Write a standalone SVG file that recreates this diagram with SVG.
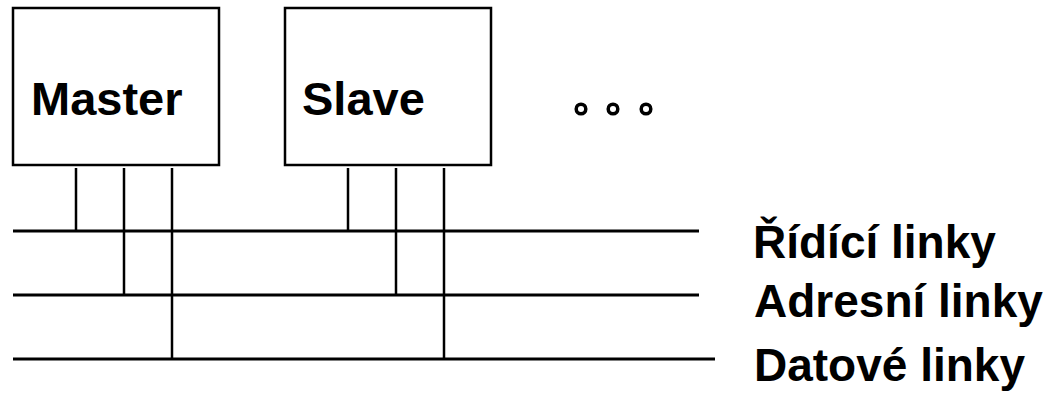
<svg xmlns="http://www.w3.org/2000/svg" width="1051" height="395" viewBox="0 0 1051 395">
<style>
.box{fill:#fff;stroke:#000;stroke-width:2.5}
.lbl{font-family:"Liberation Sans",Arial,sans-serif;font-weight:bold;fill:#000}
.bus{stroke:#000;stroke-width:3;fill:none}
.tap{stroke:#000;stroke-width:2.5;fill:none}
.dot{fill:none;stroke:#000;stroke-width:3.5}
</style>
<rect width="1051" height="395" fill="#fff"/>
<g id="master">
<rect class="box" x="13" y="8" width="206" height="157"/>
<text class="lbl" x="31" y="115" font-size="47">Master</text>
</g>
<g id="slave">
<rect class="box" x="285" y="8" width="206" height="157"/>
<text class="lbl" x="302" y="115" font-size="47">Slave</text>
</g>
<g id="ellipsis">
<circle class="dot" cx="581" cy="109" r="4.8"/>
<circle class="dot" cx="613" cy="109" r="4.8"/>
<circle class="dot" cx="646" cy="109" r="4.8"/>
</g>
<g id="connectors">
<line class="bus" x1="13" y1="231" x2="699" y2="231"/>
<line class="bus" x1="13" y1="295" x2="699" y2="295"/>
<line class="bus" x1="13" y1="359" x2="715" y2="359"/>
<line class="tap" x1="76" y1="168" x2="76" y2="231"/>
<line class="tap" x1="124" y1="168" x2="124" y2="295"/>
<line class="tap" x1="172" y1="168" x2="172" y2="359"/>
<line class="tap" x1="348" y1="168" x2="348" y2="231"/>
<line class="tap" x1="396" y1="168" x2="396" y2="295"/>
<line class="tap" x1="444" y1="168" x2="444" y2="359"/>
</g>
<g id="labels">
<text class="lbl" x="753" y="258" font-size="46">Řídící linky</text>
<text class="lbl" x="754" y="317" font-size="46">Adresní linky</text>
<text class="lbl" x="754" y="381" font-size="46">Datové linky</text>
</g>
</svg>
